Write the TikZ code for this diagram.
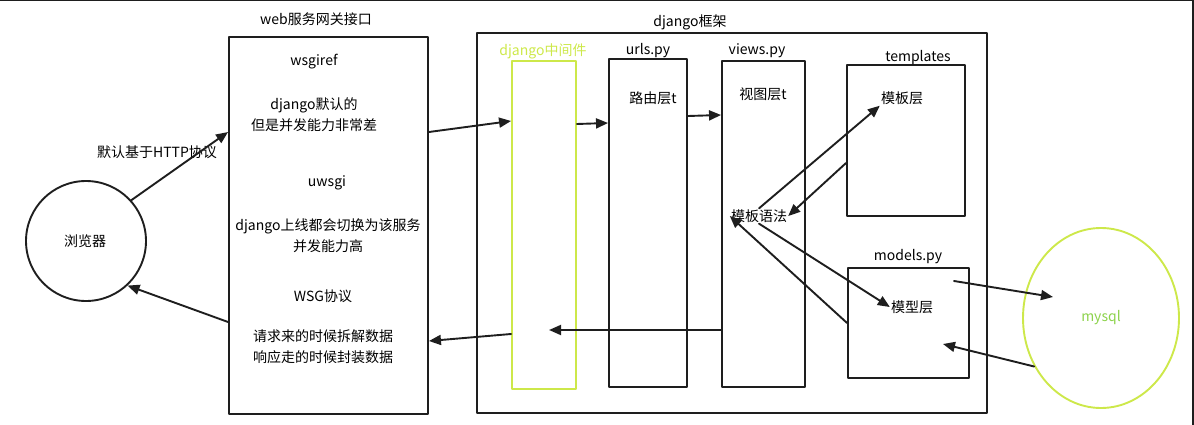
\documentclass[tikz,border=0pt]{standalone}
\usepackage{fontspec}
\setmainfont{Noto Sans CJK SC}
\usetikzlibrary{arrows.meta,shapes.geometric}
\definecolor{ink}{HTML}{1E1E1E}
\definecolor{lime}{HTML}{CDE84A}
\definecolor{leaf}{HTML}{8CD24B}
\tikzset{
	box/.style={draw=ink, line width=1.9pt, inner sep=0pt},
	arr/.style={draw=ink, line width=1.9pt, -{Triangle[length=12pt,width=10pt]}},
	txt/.style={inner sep=1pt, align=center, font=\fontsize{14}{21}\selectfont}
}
\begin{document}
\begin{tikzpicture}[x=1pt, y=-1pt, line join=round, line cap=round]
		\useasboundingbox (0,0) rectangle (1194,425);
		\draw[ink, line width=1.5pt] (0,0.5)--(1194,0.5);
		\draw[ink, line width=2pt] (1193,0)--(1193,425);
		% browser and web server
		\node[box, circle, minimum size=120pt] (browser) at (86,241) {};
		\node[txt] (brlbl) at (85,241) {浏览器};
		\node[box, minimum width=199pt, minimum height=377pt] (web) at (328.5,225.5) {};
		\node[txt] (weblbl) at (316,19) {web服务网关接口};
		\node[txt] (wsgiref) at (314,62) {wsgiref};
		\node[txt] (slow) at (314,114.5) {django默认的\\但是并发能力非常差};
		\node[txt] (uwsgi) at (327,183) {uwsgi};
		\node[txt] (fast) at (328,235.5) {django上线都会切换为该服务\\并发能力高};
		\node[txt] (wsg) at (323,296) {WSG协议};
		\node[txt] (pack) at (323,346.5) {请求来的时候拆解数据\\响应走的时候封装数据};
		\node[txt] (http) at (157,152) {默认基于HTTP协议};
		% django framework
		\node[box, minimum width=510pt, minimum height=380pt] (frame) at (732,223) {};
		\node[txt] (framelbl) at (690,22) {django框架};
		\node[box, draw=lime, minimum width=64pt, minimum height=328pt] (mw) at (544,225) {};
		\node[txt, text=lime] (mwlbl) at (543,51) {django中间件};
		\node[box, minimum width=78pt, minimum height=328pt] (urls) at (648,223) {};
		\node[txt] (urlslbl) at (648,51) {urls.py};
		\node[txt] (route) at (653,98) {路由层t};
		\node[box, minimum width=83pt, minimum height=326pt] (views) at (763.5,224) {};
		\node[txt] (viewslbl) at (757,51) {views.py};
		\node[txt] (view) at (763,94) {视图层t};
		\node[txt] (syntax) at (759,216) {模板语法};
		\node[box, minimum width=118pt, minimum height=151pt] (tpl) at (906,140.5) {};
		\node[txt] (tplname) at (918,58) {templates};
		\node[txt] (tpllbl) at (902,98) {模板层};
		\node[box, minimum width=121pt, minimum height=110pt] (models) at (908.5,323) {};
		\node[txt] (modname) at (908,257) {models.py};
		\node[txt] (modlbl) at (912,307) {模型层};
		% database
		\node[box, draw=lime, ellipse, minimum width=156pt, minimum height=180pt] (db) at (1101,318) {};
		\node[txt, text=leaf] (dblbl) at (1101,318) {mysql};
		\coordinate (mwin) at (549,330);
		\coordinate (modout) at (954,281);
		\coordinate (modin) at (943,344);
		\coordinate (dbin) at (1053,297);
		% connectors
		\draw[arr] (browser.42)--([yshift=93.5pt]web.west);
		\draw[arr] ([yshift=-96.5pt]web.west)--(browser.-47);
		\draw[arr] ([yshift=93.5pt]web.east)--([yshift=104pt]mw.west);
		\draw[arr] ([yshift=101pt]mw.east)--([yshift=100pt]urls.west);
		\draw[arr] ([yshift=107pt]urls.east)--([yshift=109pt]views.west);
		\draw[arr] (syntax.north)--(tpllbl.south west);
		\draw[arr] ([yshift=-22.5pt]tpl.west)--(syntax.east);
		\draw[arr] (syntax.south)--(modlbl.west);
		\draw[arr] (models.west)--(syntax.west);
		\draw[arr] ([yshift=-106pt]views.west)--(mwin);
		\draw[arr] ([yshift=-109pt]mw.west)--([yshift=-115.5pt]web.east);
		\draw[arr] (modout)--(dbin);
		\draw[arr] (db.216)--(modin);
\end{tikzpicture}
\end{document}
